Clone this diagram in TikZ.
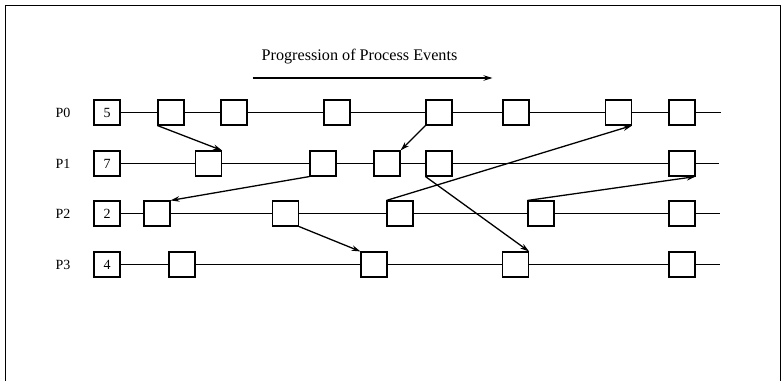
\documentclass[tikz,border=0pt]{standalone}
\usepackage{fontspec}
\setmainfont{Liberation Serif}
\usetikzlibrary{arrows.meta}
\begin{document}
\begin{tikzpicture}[x=1pt,y=-1pt,
 ev/.style={draw, line width=1.1pt, minimum width=26pt, minimum height=25pt, inner sep=0pt, font=\fontsize{14}{16}\selectfont},
 tl/.style={line width=1.1pt},
 msg/.style={line width=1.3pt, -{Stealth[length=9pt,width=5.5pt]}},
 lbl/.style={font=\fontsize{14}{16}\selectfont}]
\useasboundingbox (0,0) rectangle (783,380);
\draw[line width=0.8pt] (5,395) -- (5,5) -- (780,5) -- (780,395);

\node[font=\fontsize{16.2}{19}\selectfont] (title) at (359.5,57) {Progression of Process Events};
\coordinate (as) at (252.5,78);
\coordinate (ae) at (492.5,78);
\draw[msg] (as) -- (ae);

% P0
\node[lbl] (l0) at (63,112.5) {P0};
\node[ev] (p0i) at (107,112.5) {5};
\node[ev] (p0a) at (171,112.5) {};
\node[ev] (p0b) at (234,112.5) {};
\node[ev] (p0c) at (337,112.5) {};
\node[ev] (p0d) at (439,112.5) {};
\node[ev] (p0e) at (516,112.5) {};
\node[ev] (p0f) at (618.5,112.5) {};
\node[ev] (p0g) at (682,112.5) {};
\coordinate (e0) at (721,112.5);
\draw[tl] (p0i) -- (p0a) -- (p0b) -- (p0c) -- (p0d) -- (p0e) -- (p0f) -- (p0g) -- (e0);

% P1
\node[lbl] (l1) at (63,163.5) {P1};
\node[ev] (p1i) at (107,163.5) {7};
\node[ev] (p1a) at (208.5,163.5) {};
\node[ev] (p1b) at (323,163.5) {};
\node[ev] (p1c) at (387,163.5) {};
\node[ev] (p1d) at (439,163.5) {};
\node[ev] (p1e) at (682,163.5) {};
\coordinate (e1) at (719,163.5);
\draw[tl] (p1i) -- (p1a) -- (p1b) -- (p1c) -- (p1d) -- (p1e) -- (e1);

% P2
\node[lbl] (l2) at (63,213.5) {P2};
\node[ev] (p2i) at (107,213.5) {2};
\node[ev] (p2a) at (157,213.5) {};
\node[ev] (p2b) at (285.5,213.5) {};
\node[ev] (p2c) at (400,213.5) {};
\node[ev] (p2d) at (541,213.5) {};
\node[ev] (p2e) at (682,213.5) {};
\coordinate (e2) at (720,213.5);
\draw[tl] (p2i) -- (p2a) -- (p2b) -- (p2c) -- (p2d) -- (p2e) -- (e2);

% P3
\node[lbl] (l3) at (63,264.5) {P3};
\node[ev] (p3i) at (107,264.5) {4};
\node[ev] (p3a) at (182,264.5) {};
\node[ev] (p3b) at (374,264.5) {};
\node[ev] (p3c) at (515.5,264.5) {};
\node[ev] (p3d) at (682,264.5) {};
\coordinate (e3) at (720,264.5);
\draw[tl] (p3i) -- (p3a) -- (p3b) -- (p3c) -- (p3d) -- (e3);

% messages
\draw[msg] (p0a.south west) -- (p1a.north east);
\draw[msg] (p0d.south west) -- (p1c.north east);
\draw[msg] (p1b.south west) -- (p2a.north east);
\draw[msg] (p2c.north west) -- (p0f.south east);
\draw[msg] (p1d.south west) -- (p3c.north east);
\draw[msg] (p2b.south east) -- (p3b.north west);
\draw[msg] (p2d.north west) -- (p1e.south east);
\end{tikzpicture}
\end{document}
